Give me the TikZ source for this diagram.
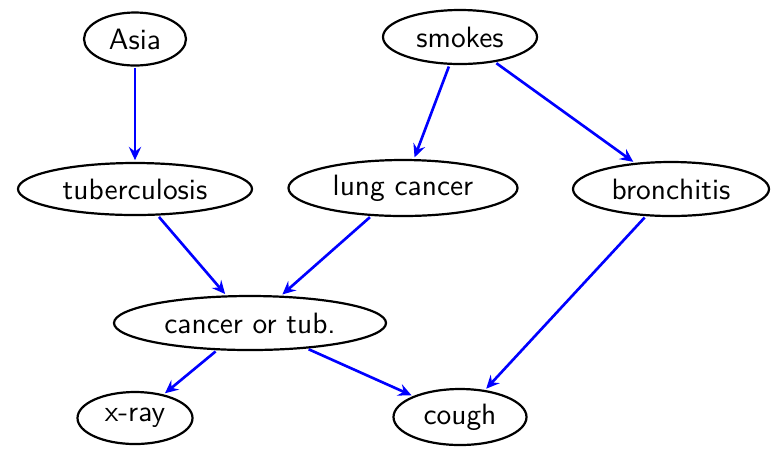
\documentclass[tikz,border=0pt]{standalone}
\usetikzlibrary{shapes.geometric,arrows.meta}
\tikzset{
  bnode/.style 2 args={ellipse, draw=black, line width=0.75pt, minimum width=#1*0.34pt, minimum height=#2*0.34pt, inner sep=0pt, font=\sffamily},
  link/.style={-{Stealth[length=4.5pt,width=4.2pt,inset=1.6pt]}, draw=blue, line width=0.9pt, shorten >=0.6pt, shorten <=0.6pt}
}
\begin{document}
\begin{tikzpicture}[x=0.34pt, y=-0.34pt]
\useasboundingbox (0,0) rectangle (775,450);
\node[bnode={102}{53}] (asia) at (135,39) {Asia};
\node[bnode={154}{54}] (smokes) at (460,37) {smokes};
\node[bnode={234}{52}] (tub) at (135,189) {tuberculosis};
\node[bnode={229}{56}] (lung) at (403,188) {lung cancer};
\node[bnode={196}{54}] (bron) at (671,189) {bronchitis};
\node[bnode={272}{54}] (either) at (250,323) {cancer or tub.};
\node[bnode={115}{52}] (xray) at (135,418) {x-ray};
\node[bnode={133}{56}] (cough) at (460,417) {cough};
\draw[link] (asia) -- (tub);
\draw[link] (smokes) -- (lung);
\draw[link] (smokes) -- (bron);
\draw[link] (tub) -- (either);
\draw[link] (lung) -- (either);
\draw[link] (bron) -- (cough);
\draw[link] (either) -- (xray);
\draw[link] (either) -- (cough);
\end{tikzpicture}
\end{document}
